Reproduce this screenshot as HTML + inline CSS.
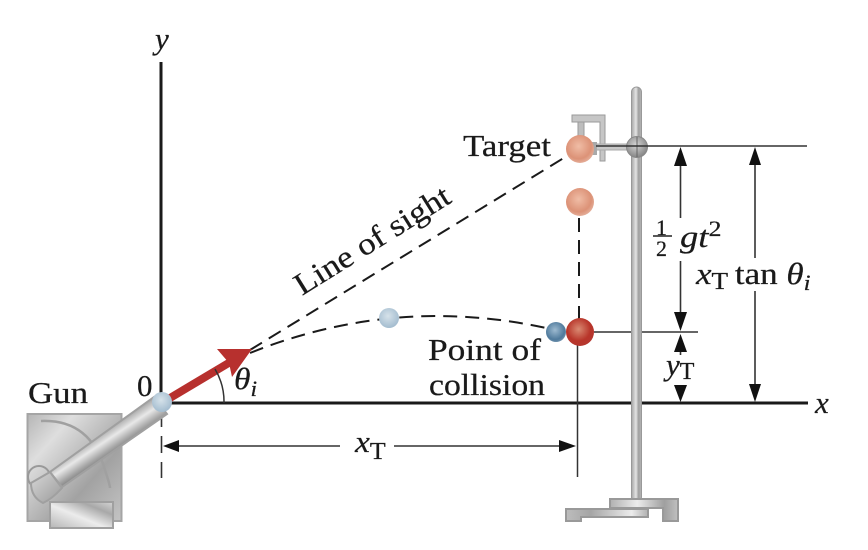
<!DOCTYPE html>
<html lang="en">
<head>
<meta charset="utf-8">
<title>Projectile and falling target diagram</title>
<style>
html,body{margin:0;padding:0;background:#fff;width:868px;height:550px;overflow:hidden}
svg{display:block}
text{font-family:"Liberation Serif",serif;fill:#1a1a1a;stroke:#1a1a1a;stroke-width:.25}
.lab{font-size:31px}
.it{font-style:italic}
.thin{stroke:#333;stroke-width:1.5;fill:none}
.dash{stroke:#1a1a1a;stroke-width:2;fill:none;stroke-dasharray:14 8}
.dim{stroke:#333;stroke-width:1.6;fill:none}
.head{fill:#111}
</style>
</head>
<body>
<svg width="868" height="550" viewBox="0 0 868 550">
<defs>
<linearGradient id="plate" x1="0" y1="0" x2="1" y2="1"><stop offset="0" stop-color="#b5b5b5"/><stop offset=".25" stop-color="#dedede"/><stop offset=".65" stop-color="#a2a2a2"/><stop offset="1" stop-color="#c4c4c4"/></linearGradient>
<linearGradient id="box" x1="0" y1="1" x2="1" y2="0"><stop offset="0" stop-color="#b5b5b5"/><stop offset=".45" stop-color="#ececec"/><stop offset=".75" stop-color="#a8a8a8"/><stop offset="1" stop-color="#d5d5d5"/></linearGradient>
<linearGradient id="barrel" gradientUnits="userSpaceOnUse" x1="102" y1="433" x2="114" y2="451"><stop offset="0" stop-color="#ababab"/><stop offset=".4" stop-color="#e8e8e8"/><stop offset="1" stop-color="#8c8c8c"/></linearGradient>
<linearGradient id="breech" x1="0" y1="0" x2="1" y2="1"><stop offset="0" stop-color="#d8d8d8"/><stop offset="1" stop-color="#9a9a9a"/></linearGradient>
<linearGradient id="pole" x1="0" y1="0" x2="1" y2="0"><stop offset="0" stop-color="#a5a5a5"/><stop offset=".45" stop-color="#e4e4e4"/><stop offset=".7" stop-color="#a0a0a0"/><stop offset="1" stop-color="#b5b5b5"/></linearGradient>
<linearGradient id="basegrad" x1="0" y1="0" x2="1" y2="0"><stop offset="0" stop-color="#b0b0b0"/><stop offset=".4" stop-color="#ececec"/><stop offset=".8" stop-color="#9f9f9f"/><stop offset="1" stop-color="#c0c0c0"/></linearGradient>
<linearGradient id="basegrad2" x1="0" y1="0" x2="1" y2="0"><stop offset="0" stop-color="#bdbdbd"/><stop offset=".3" stop-color="#a5a5a5"/><stop offset=".8" stop-color="#ececec"/><stop offset="1" stop-color="#b0b0b0"/></linearGradient>
<radialGradient id="salmon" cx=".45" cy=".4" r=".6"><stop offset="0" stop-color="#f0bda6"/><stop offset=".75" stop-color="#dc9277"/><stop offset="1" stop-color="#e4ad98"/></radialGradient>
<radialGradient id="red" cx=".45" cy=".4" r=".6"><stop offset="0" stop-color="#d98a72"/><stop offset=".7" stop-color="#b8352a"/><stop offset="1" stop-color="#b5362e"/></radialGradient>
<radialGradient id="blue" cx=".45" cy=".4" r=".6"><stop offset="0" stop-color="#9dbad0"/><stop offset=".8" stop-color="#4f7a9c"/><stop offset="1" stop-color="#6b8eaa"/></radialGradient>
<radialGradient id="pale" cx=".45" cy=".4" r=".6"><stop offset="0" stop-color="#d6e2ea"/><stop offset="1" stop-color="#a3bccf"/></radialGradient>
<radialGradient id="clampball" cx=".45" cy=".4" r=".6"><stop offset="0" stop-color="#d5d5d5"/><stop offset="1" stop-color="#858585"/></radialGradient>
</defs>

<!-- axes -->
<line x1="161" y1="62" x2="161" y2="403" stroke="#1a1a1a" stroke-width="3"/>
<line x1="161" y1="403" x2="808" y2="403" stroke="#1a1a1a" stroke-width="3"/>
<text x="155" y="49" class="lab it">y</text>
<text x="815" y="413" class="lab it">x</text>
<text x="137" y="396" class="lab">0</text>

<!-- guide lines -->
<line x1="594" y1="332" x2="698" y2="332" class="thin"/>
<line x1="579" y1="218" x2="579" y2="320" class="dash"/>
<line x1="577.500" y1="344" x2="577.500" y2="477" class="thin"/>
<line x1="161.500" y1="410" x2="161.500" y2="478" stroke="#333" stroke-width="1.6" stroke-dasharray="17 9"/>

<!-- stand -->
<g>
<rect x="631.500" y="87" width="10" height="415" rx="5" fill="url(#pole)" stroke="#999" stroke-width="1"/>
<path d="M610 499H678V521H663V508H610Z" fill="url(#basegrad)" stroke="#999" stroke-width="2"/>
<path d="M566 509H648V517H581V521H566Z" fill="url(#basegrad2)" stroke="#999" stroke-width="2"/>
<path d="M578 121H584V136H578Z" fill="#bdbdbd" stroke="#9a9a9a"/>
<path d="M572 115H605V161H600V122H572Z" fill="#c6c6c6" stroke="#9a9a9a"/>
<rect x="592" y="144" width="40" height="6" fill="#c8c8c8" stroke="#aaa"/>
<rect x="591" y="142" width="6" height="13" fill="#a9a9a9"/>
<circle cx="637" cy="147" r="10.500" fill="url(#clampball)" stroke="#888"/>
<line x1="637" y1="137" x2="637" y2="157" stroke="#666" stroke-width="1"/>
</g>
<line x1="596" y1="146" x2="807" y2="146" class="thin"/>

<!-- sight line and trajectory -->
<line x1="250" y1="350" x2="567" y2="156" class="dash"/>
<path d="M250 353Q395 295 546 328" class="dash"/>

<!-- velocity arrow -->
<g>
<line x1="165" y1="401" x2="232" y2="361" stroke="#b7302e" stroke-width="8"/>
<path d="M252 349L217 349L229 363L232 377Z" fill="#b7302e"/>
</g>

<!-- angle arc -->
<path d="M224 403A64 64 0 0 0 215 369" class="thin"/>
<text transform="translate(234 389) scale(1.08 1)" class="lab it">θ<tspan dy="7" font-size="22">i</tspan></text>

<!-- gun -->
<g>
<rect x="27.500" y="414" width="94" height="107" fill="url(#plate)" stroke="#a5a5a5" stroke-width="2"/>
<path d="M41 421Q90 419 105 470Q110 485 110 488" fill="none" stroke="#a0a0a0" stroke-width="2.500"/>
<circle cx="39" cy="477" r="11" fill="none" stroke="#999" stroke-width="2"/>
<rect x="50" y="502" width="63" height="26" fill="url(#box)" stroke="#a0a0a0" stroke-width="2"/>
<path d="M154 397L167 414L62 487L50 472Z" fill="url(#barrel)" stroke="#a0a0a0" stroke-width="2"/>
<path d="M50 472L31 483Q31 497 43 503Q52 499 62 488Z" fill="url(#breech)" stroke="#a0a0a0" stroke-width="2"/>
</g>

<!-- balls -->
<circle cx="162" cy="402" r="10" fill="url(#pale)"/>
<circle cx="389" cy="318" r="10" fill="url(#pale)"/>
<circle cx="556" cy="332" r="10" fill="url(#blue)"/>
<circle cx="580" cy="149" r="14" fill="url(#salmon)"/>
<circle cx="580" cy="202" r="14" fill="url(#salmon)"/>
<circle cx="580" cy="332" r="14" fill="url(#red)"/>

<!-- dimension: xT -->
<line x1="175" y1="446" x2="340" y2="446" class="dim"/>
<line x1="394" y1="446" x2="562" y2="446" class="dim"/>
<path d="M163 446L179 440V452Z" class="head"/>
<path d="M576 446L559 440V452Z" class="head"/>
<text transform="translate(355 452) scale(1.08 1)" class="lab it">x<tspan dy="7" font-size="24" font-style="normal">T</tspan></text>

<!-- dimension: 1/2 g t^2 -->
<line x1="680.500" y1="150" x2="680.500" y2="218" class="dim"/>
<line x1="680.500" y1="261" x2="680.500" y2="318" class="dim"/>
<path d="M680.500 147L674 166H687Z" class="head"/>
<path d="M680.500 331L674 312H687Z" class="head"/>
<text x="656" y="235" font-size="22">1</text>
<line x1="653" y1="236" x2="672" y2="236" stroke="#222" stroke-width="1.500"/>
<text x="656" y="256" font-size="22">2</text>
<text transform="translate(680 247) scale(1.18 1)" class="lab it">gt<tspan dy="-11" font-size="22" font-style="normal">2</tspan></text>

<!-- dimension: yT -->
<line x1="680.500" y1="345" x2="680.500" y2="355" class="dim"/>
<line x1="680.500" y1="386" x2="680.500" y2="392" class="dim"/>
<path d="M680.500 334L674 352H687Z" class="head"/>
<path d="M680.500 402L674 385H687Z" class="head"/>
<text x="666" y="375" class="lab it">y<tspan dy="4" font-size="24" font-style="normal">T</tspan></text>

<!-- dimension: xT tan theta -->
<line x1="755" y1="150" x2="755" y2="258" class="dim"/>
<line x1="755" y1="291" x2="755" y2="390" class="dim"/>
<path d="M755 147L749 165H761Z" class="head"/>
<path d="M755 402L749 384H761Z" class="head"/>
<text transform="translate(696 284) scale(1.13 1)" class="lab"><tspan font-style="italic">x</tspan><tspan dy="5" font-size="24">T</tspan><tspan dy="-5" dx="6">tan </tspan><tspan font-style="italic">θ</tspan><tspan dy="6" font-size="22" font-style="italic">i</tspan></text>

<!-- labels -->
<text x="463" y="156" class="lab" textLength="88" lengthAdjust="spacingAndGlyphs">Target</text>
<text x="28" y="403" class="lab" textLength="60" lengthAdjust="spacingAndGlyphs">Gun</text>
<text x="428" y="360" class="lab" textLength="113" lengthAdjust="spacingAndGlyphs">Point of</text>
<text x="429" y="395" class="lab" textLength="116" lengthAdjust="spacingAndGlyphs">collision</text>
<text transform="translate(302 296) rotate(-32)" class="lab" textLength="178" lengthAdjust="spacingAndGlyphs">Line of sight</text>
</svg>
</body>
</html>
